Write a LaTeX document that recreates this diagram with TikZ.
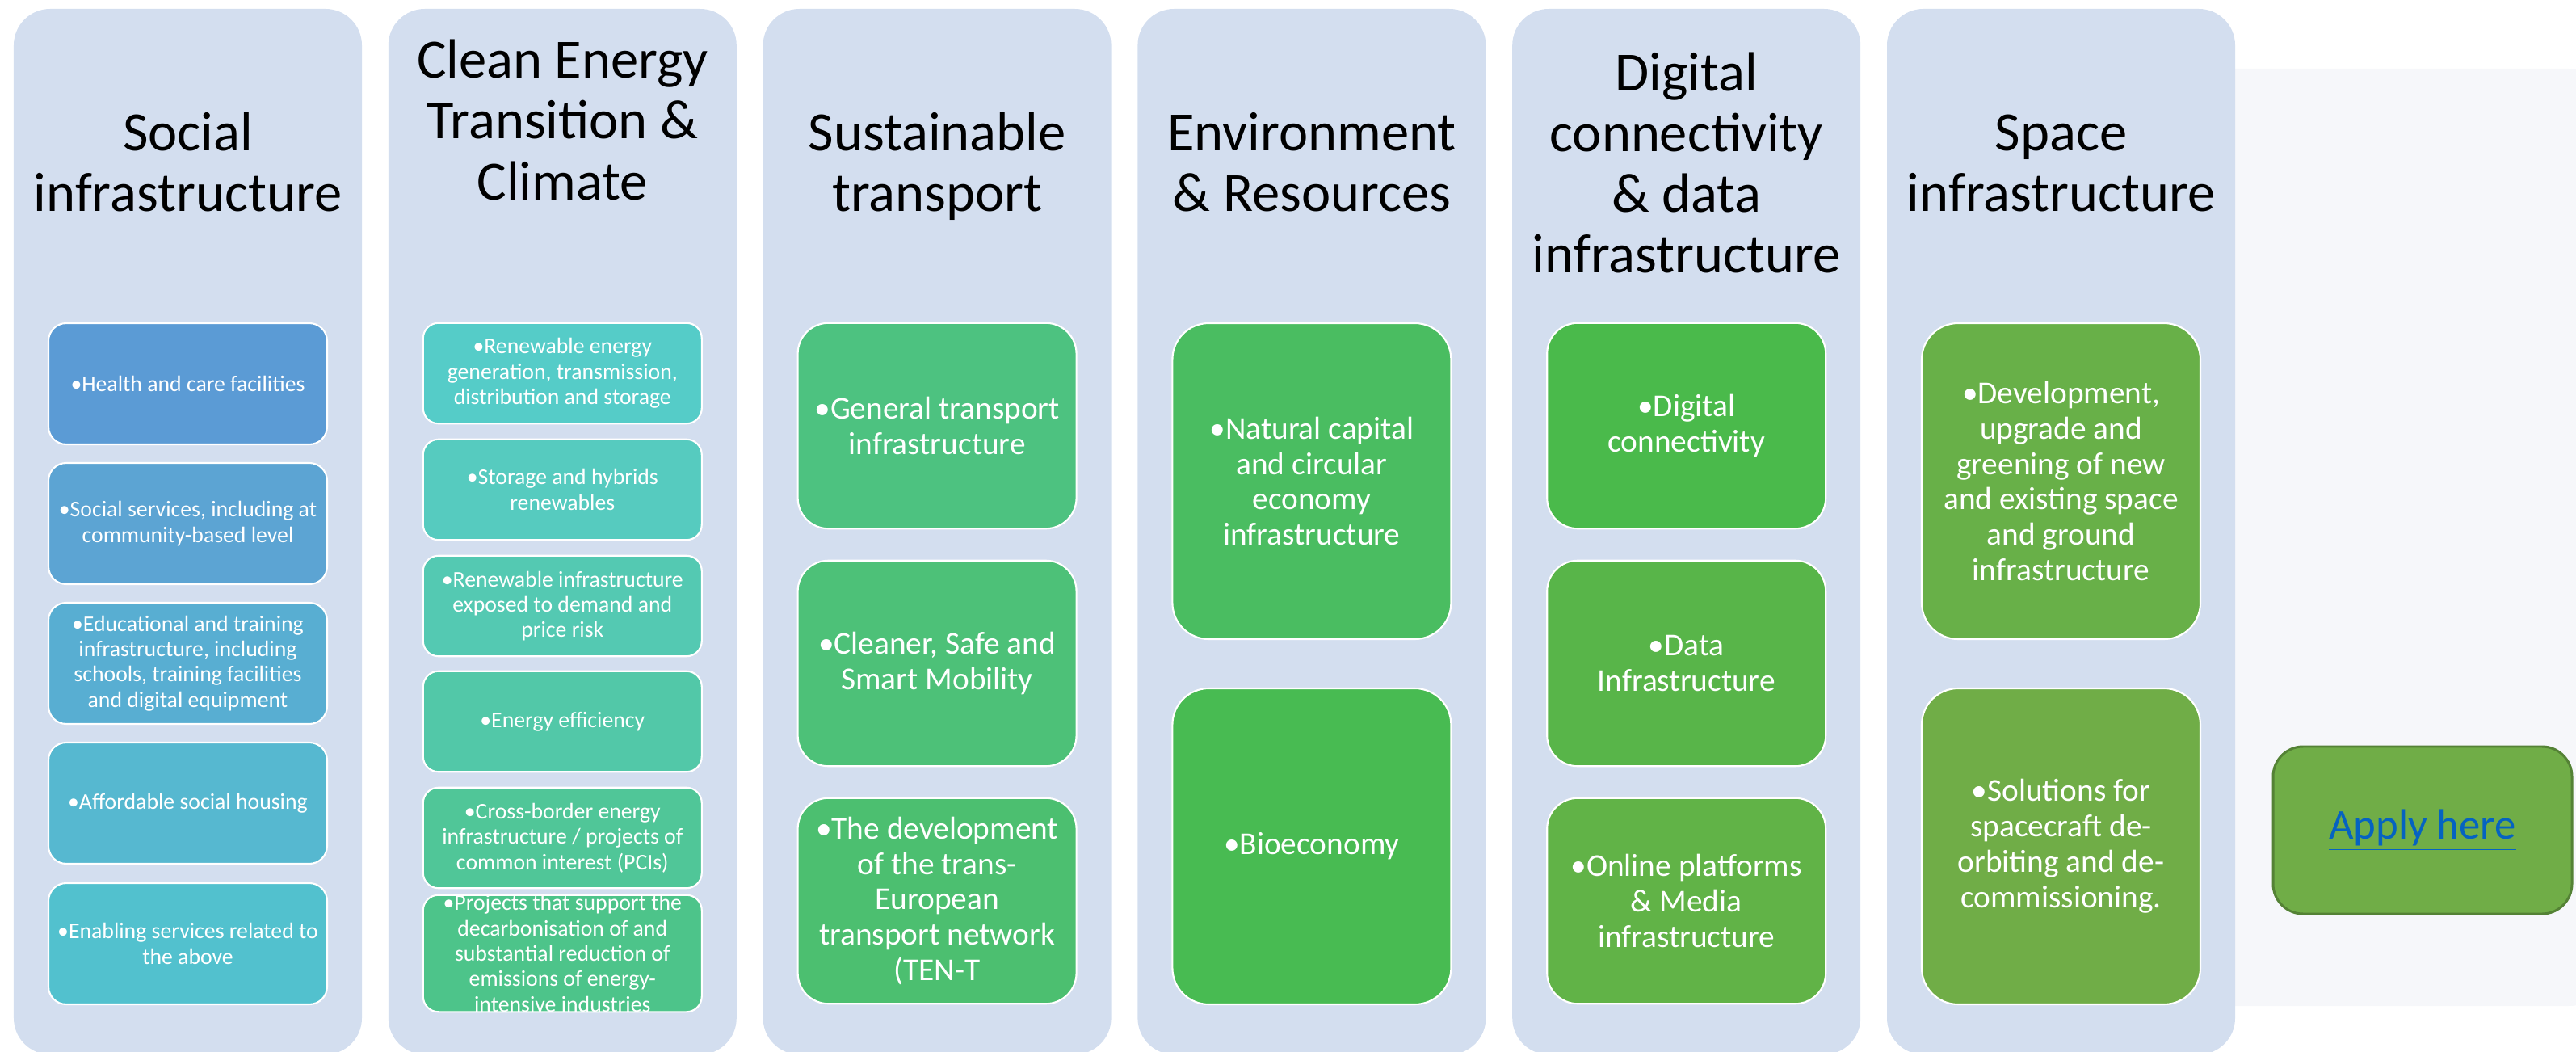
\documentclass[tikz,border=0pt]{standalone}
\usepackage{fontspec}
\setmainfont{Carlito}

\definecolor{lanebg}{RGB}{211,222,239}
\definecolor{haze}{RGB}{246,247,250}
% box fills, blue on the left running to green on the right
\definecolor{b11}{RGB}{91,155,213}
\definecolor{b12}{RGB}{92,164,211}
\definecolor{b13}{RGB}{88,174,210}
\definecolor{b14}{RGB}{86,184,208}
\definecolor{b15}{RGB}{82,193,206}
\definecolor{b21}{RGB}{85,204,200}
\definecolor{b22}{RGB}{86,203,191}
\definecolor{b23}{RGB}{84,201,178}
\definecolor{b24}{RGB}{82,200,168}
\definecolor{b25}{RGB}{80,198,152}
\definecolor{b26}{RGB}{77,196,138}
\definecolor{b31}{RGB}{77,194,128}
\definecolor{b32}{RGB}{77,193,120}
\definecolor{b33}{RGB}{76,191,112}
\definecolor{b41}{RGB}{74,189,97}
\definecolor{b42}{RGB}{72,187,82}
\definecolor{b51}{RGB}{74,186,75}
\definecolor{b52}{RGB}{88,181,73}
\definecolor{b53}{RGB}{97,179,71}
\definecolor{b61}{RGB}{104,176,72}
\definecolor{b62}{RGB}{112,173,71}
\definecolor{applyline}{RGB}{84,130,53}
\definecolor{linkblue}{RGB}{5,99,193}

\begin{document}
\begin{tikzpicture}[y=-1cm,
  lane/.style={fill=lanebg, rounded corners=0.45cm, minimum width=4.31cm, minimum height=12.94cm, inner sep=0pt},
  lanetitle/.style={anchor=base, align=center, text=black, font=\fontsize{19.5}{21.35}\selectfont},
  item/.style={draw=white, line width=0.6pt, text=white, align=center, minimum width=3.45cm, inner sep=0pt},
  itemS/.style={item, minimum height=1.50cm, rounded corners=0.22cm, font=\fontsize{7.9}{8.9}\selectfont},
  itemT/.style={item, minimum height=1.245cm, rounded corners=0.19cm, font=\fontsize{7.9}{8.9}\selectfont},
  itemM/.style={item, minimum height=2.545cm, rounded corners=0.38cm, font=\fontsize{11.2}{12.5}\selectfont},
  itemL/.style={item, minimum height=3.91cm, rounded corners=0.45cm, font=\fontsize{11.2}{12.5}\selectfont},
  applybox/.style={fill=b62, draw=applyline, line width=0.85pt, rounded corners=0.37cm, minimum width=3.70cm, minimum height=2.07cm, text=linkblue, font=\fontsize{15}{18}\selectfont}]

\useasboundingbox (0,0) rectangle (31.89,13.02);

\fill[haze, rounded corners=0.6cm] (26.0,0.85) rectangle (32.4,12.45);

%% the six lanes
\node[lane] (lane1) at (2.325,6.58) {};
\node[lane] (lane2) at (6.963,6.58) {};
\node[lane] (lane3) at (11.601,6.58) {};
\node[lane] (lane4) at (16.239,6.58) {};
\node[lane] (lane5) at (20.877,6.58) {};
\node[lane] (lane6) at (25.515,6.58) {};

% titles sit on the baseline of their last line
\node[lanetitle] (title1) at (2.325,2.62) {Social\\infrastructure};
\node[lanetitle] (title2) at (6.963,2.47) {Clean Energy\\Transition \&\\Climate};
\node[lanetitle] (title3) at (11.601,2.62) {Sustainable\\transport};
\node[lanetitle] (title4) at (16.239,2.62) {Environment\\\& Resources};
\node[lanetitle] (title5) at (20.877,3.38) {Digital\\connectivity\\\& data\\infrastructure};
\node[lanetitle] (title6) at (25.515,2.62) {Space\\infrastructure};


\node[itemS, fill=b11] (social1) at (2.325,4.75) {•Health and care facilities};
\node[itemS, fill=b12] (social2) at (2.325,6.48) {•Social services, including at\\community-based level};
\node[itemS, fill=b13] (social3) at (2.325,8.21) {•Educational and training\\infrastructure, including\\schools, training facilities\\and digital equipment};
\node[itemS, fill=b14] (social4) at (2.325,9.94) {•Affordable social housing};
\node[itemS, fill=b15] (social5) at (2.325,11.68) {•Enabling services related to\\the above};


\node[itemT, fill=b21] (energy1) at (6.963,4.62) {•Renewable energy\\generation, transmission,\\distribution and storage};
\node[itemT, fill=b22] (energy2) at (6.963,6.06) {•Storage and hybrids\\renewables};
\node[itemT, fill=b23] (energy3) at (6.963,7.50) {•Renewable infrastructure\\exposed to demand and\\price risk};
\node[itemT, fill=b24] (energy4) at (6.963,8.93) {•Energy efficiency};
\node[itemT, fill=b25] (energy5) at (6.963,10.37) {•Cross-border energy\\infrastructure / projects of\\common interest (PCIs)};
\node[itemT, fill=b26] (energy6) at (6.963,11.80) {•Projects that support the\\decarbonisation of and\\substantial reduction of\\emissions of energy-\\intensive industries};


\node[itemM, fill=b31] (transport1) at (11.601,5.27) {•General transport\\infrastructure};
\node[itemM, fill=b32] (transport2) at (11.601,8.21) {•Cleaner, Safe and\\Smart Mobility};
\node[itemM, fill=b33] (transport3) at (11.601,11.15) {•The development\\of the trans-\\European\\transport network\\(TEN-T};


\node[itemL, fill=b41] (env1) at (16.239,5.955) {•Natural capital\\and circular\\economy\\infrastructure};
\node[itemL, fill=b42] (env2) at (16.239,10.475) {•Bioeconomy};


\node[itemM, fill=b51] (digital1) at (20.877,5.27) {•Digital\\connectivity};
\node[itemM, fill=b52] (digital2) at (20.877,8.21) {•Data\\Infrastructure};
\node[itemM, fill=b53] (digital3) at (20.877,11.15) {•Online platforms\\\& Media\\infrastructure};


\node[itemL, fill=b61] (space1) at (25.515,5.955) {•Development,\\upgrade and\\greening of new\\and existing space\\and ground\\infrastructure};
\node[itemL, fill=b62] (space2) at (25.515,10.475) {•Solutions for\\spacecraft de-\\orbiting and de-\\commissioning.};

%% link button
\node[applybox] (apply) at (29.99,10.275) {\underline{Apply here}};

\end{tikzpicture}
\end{document}
